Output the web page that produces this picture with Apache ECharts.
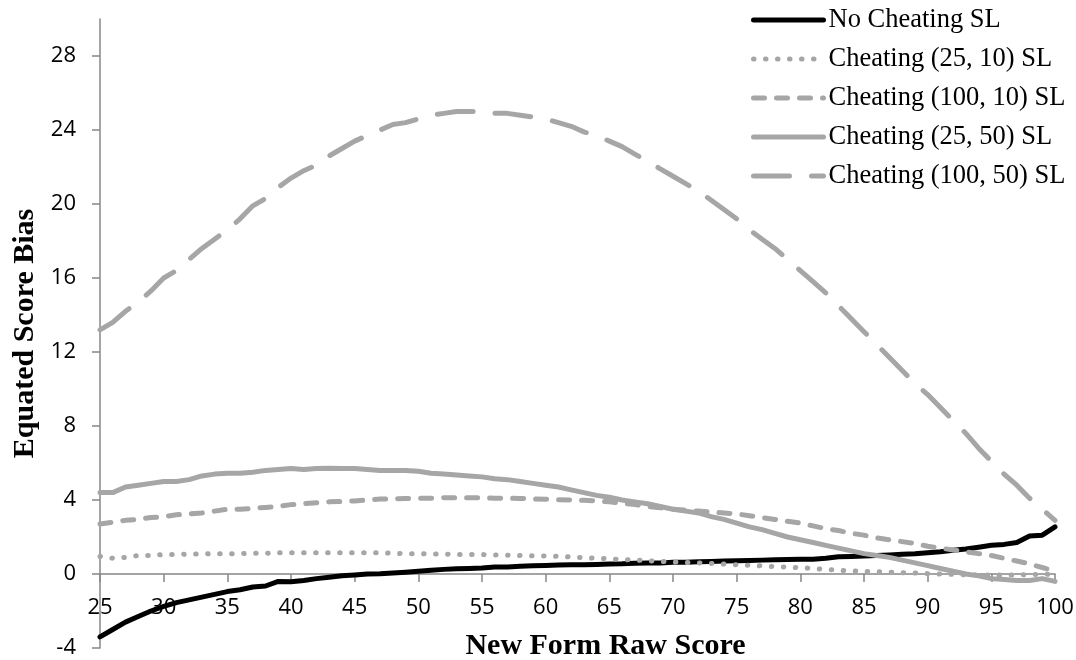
<!DOCTYPE html>
<html>
<head>
<meta charset="utf-8">
<title>Equated Score Bias</title>
<script src="https://cdn.jsdelivr.net/npm/echarts@6/dist/echarts.min.js"></script>
<style>
  html, body { margin: 0; padding: 0; background: #fff; }
  #chart { width: 1076px; height: 660px; }
</style>
</head>
<body>
<div id="chart"></div>
<script>
const GRAY = '#a6a6a6'
const AXIS_COLOR = '#878787'

// raw scores 25..100
const scores = [
  25, 26, 27, 28, 29, 30, 31, 32, 33, 34, 35, 36, 37, 38, 39, 40, 41, 42, 43, 44,
  45, 46, 47, 48, 49, 50, 51, 52, 53, 54, 55, 56, 57, 58, 59, 60, 61, 62, 63, 64,
  65, 66, 67, 68, 69, 70, 71, 72, 73, 74, 75, 76, 77, 78, 79, 80, 81, 82, 83, 84,
  85, 86, 87, 88, 89, 90, 91, 92, 93, 94, 95, 96, 97, 98, 99, 100
]

const noCheating = [
  -3.4, -3.0, -2.6, -2.3, -2.0, -1.75, -1.55, -1.4, -1.25, -1.1, -0.95, -0.85, -0.7, -0.65, -0.4, -0.42, -0.35, -0.25, -0.18, -0.1,
  -0.05, 0.0, 0.02, 0.06, 0.1, 0.15, 0.2, 0.25, 0.28, 0.3, 0.32, 0.38, 0.38, 0.42, 0.44, 0.46, 0.48, 0.5, 0.5, 0.52,
  0.54, 0.55, 0.58, 0.6, 0.6, 0.63, 0.64, 0.66, 0.68, 0.7, 0.72, 0.73, 0.75, 0.77, 0.78, 0.8, 0.8, 0.85, 0.93, 0.95,
  0.97, 1.0, 1.03, 1.07, 1.1, 1.15, 1.2, 1.28, 1.35, 1.45, 1.55, 1.6, 1.7, 2.05, 2.1, 2.55
]

const cheat25x10 = [
  0.95, 0.85, 0.9, 1.0, 1.0, 1.05, 1.05, 1.08, 1.08, 1.1, 1.1, 1.1, 1.12, 1.12, 1.15, 1.15, 1.15, 1.15, 1.15, 1.15,
  1.15, 1.15, 1.15, 1.12, 1.1, 1.1, 1.08, 1.08, 1.05, 1.05, 1.05, 1.03, 1.02, 1.0, 0.98, 0.97, 0.95, 0.92, 0.88, 0.85,
  0.82, 0.78, 0.75, 0.72, 0.68, 0.65, 0.62, 0.6, 0.57, 0.54, 0.5, 0.47, 0.44, 0.4, 0.37, 0.34, 0.3, 0.25, 0.2, 0.17,
  0.14, 0.12, 0.1, 0.07, 0.05, 0.02, 0.0, -0.02, -0.04, -0.05, -0.05, -0.05, -0.05, -0.03, -0.02, 0.0
]

const cheat100x10 = [
  2.7, 2.8, 2.9, 2.95, 3.05, 3.1, 3.2, 3.25, 3.3, 3.4, 3.5, 3.5, 3.55, 3.6, 3.65, 3.75, 3.8, 3.85, 3.9, 3.92,
  3.95, 4.0, 4.05, 4.05, 4.08, 4.1, 4.1, 4.12, 4.12, 4.12, 4.12, 4.1, 4.1, 4.08, 4.06, 4.04, 4.02, 4.0, 3.98, 3.95,
  3.9, 3.82, 3.75, 3.65, 3.58, 3.5, 3.45, 3.4, 3.35, 3.3, 3.25, 3.15, 3.05, 2.95, 2.85, 2.75, 2.6, 2.45, 2.35, 2.2,
  2.1, 1.95, 1.85, 1.75, 1.65, 1.5, 1.4, 1.3, 1.2, 1.1, 1.0, 0.85, 0.7, 0.55, 0.35, 0.15
]

const cheat25x50 = [
  4.4, 4.4, 4.7, 4.8, 4.9, 5.0, 5.0, 5.1, 5.3, 5.4, 5.45, 5.45, 5.5, 5.6, 5.65, 5.7, 5.65, 5.7, 5.72, 5.7,
  5.7, 5.65, 5.6, 5.6, 5.6, 5.55, 5.45, 5.4, 5.35, 5.3, 5.25, 5.15, 5.1, 5.0, 4.9, 4.8, 4.7, 4.55, 4.4, 4.25,
  4.15, 4.0, 3.9, 3.8, 3.65, 3.5, 3.4, 3.3, 3.1, 2.95, 2.75, 2.55, 2.4, 2.2, 2.0, 1.85, 1.7, 1.55, 1.4, 1.25,
  1.1, 1.0, 0.9, 0.75, 0.6, 0.45, 0.3, 0.15, 0.0, -0.1, -0.25, -0.3, -0.35, -0.35, -0.25, -0.4
]

const cheat100x50 = [
  13.2, 13.6, 14.2, 14.7, 15.3, 16.0, 16.4, 17.0, 17.6, 18.1, 18.6, 19.2, 19.9, 20.3, 20.9, 21.4, 21.8, 22.1, 22.6, 23.0,
  23.4, 23.7, 24.0, 24.3, 24.4, 24.6, 24.8, 24.9, 25.0, 25.0, 25.0, 24.9, 24.9, 24.8, 24.7, 24.6, 24.4, 24.2, 23.9, 23.7,
  23.4, 23.1, 22.7, 22.3, 21.9, 21.5, 21.1, 20.7, 20.2, 19.7, 19.2, 18.6, 18.1, 17.6, 17.0, 16.4, 15.8, 15.2, 14.5, 13.8,
  13.1, 12.4, 11.7, 11.0, 10.3, 9.7, 9.0, 8.3, 7.6, 6.8, 6.1, 5.4, 4.8, 4.1, 3.5, 2.9
]

const yTicks = [-4, 0, 4, 8, 12, 16, 20, 24, 28]

const pairs = (ys) => scores.map((x, i) => [x, ys[i]])

const chart = echarts.init(document.getElementById('chart'))

const lineSeries = (name, ys, color, type) => ({
  name,
  type: 'line',
  data: pairs(ys),
  symbol: 'none',
  smooth: false,
  lineStyle: { color, width: 5, type, cap: 'round', join: 'round' },
  itemStyle: { color },
  animation: false,
})

chart.setOption({
  animation: false,
  grid: { left: 100, right: 21, top: 19, bottom: 12, outerBoundsMode: 'none', containLabel: false },
  legend: {
    orient: 'vertical',
    left: 746,
    top: 0,
    itemWidth: 70,
    itemHeight: 14,
    itemGap: 9,
    itemStyle: { opacity: 0 },
    lineStyle: { width: 5, cap: 'round' },
    textStyle: {
      fontFamily: 'Liberation Serif',
      fontSize: 26.5,
      color: '#000',
      lineHeight: 30,
    },
  },
  xAxis: {
    type: 'value',
    min: 25,
    max: 100,
    interval: 5,
    offset: 0,
    name: 'New Form Raw Score',
    nameLocation: 'middle',
    nameGap: 57,
    nameTextStyle: {
      fontFamily: 'Liberation Serif',
      fontWeight: 'bold',
      fontSize: 30,
      color: '#000',
      padding: [0, 0, 0, 56],
    },
    axisLine: { onZero: false, lineStyle: { color: AXIS_COLOR, width: 1.5 } },
    axisTick: { show: true, length: 8, inside: false, lineStyle: { color: AXIS_COLOR, width: 1.5 } },
    axisLabel: { margin: 23, fontFamily: 'Open Sans', fontSize: 22, color: '#000' },
    splitLine: { show: false },
  },
  yAxis: {
    type: 'value',
    min: -4,
    max: 30,
    interval: 4,
    name: 'Equated Score Bias',
    nameLocation: 'middle',
    nameGap: 50,
    nameTextStyle: {
      fontFamily: 'Liberation Serif',
      fontWeight: 'bold',
      fontSize: 30,
      color: '#000',
    },
    axisLine: { show: true, onZero: false, lineStyle: { color: AXIS_COLOR, width: 1.5 } },
    axisTick: { show: true, length: 8, customValues: yTicks, lineStyle: { color: AXIS_COLOR, width: 1.5 } },
    axisLabel: { margin: 24, fontFamily: 'Open Sans', fontSize: 22, color: '#000', customValues: yTicks },
    splitLine: { show: false },
  },
  series: [
    lineSeries('No Cheating SL', noCheating, '#000000', 'solid'),
    lineSeries('Cheating (25, 10) SL', cheat25x10, GRAY, [0.5, 11.5]),
    lineSeries('Cheating (100, 10) SL', cheat100x10, GRAY, [11, 12]),
    lineSeries('Cheating (25, 50) SL', cheat25x50, GRAY, 'solid'),
    lineSeries('Cheating (100, 50) SL', cheat100x50, GRAY, [36, 22]),
  ],
})

// lift the x axis (line, ticks, labels, name) up to y = 0
const zeroY = chart.convertToPixel({ yAxisIndex: 0 }, 0)
const bottomY = chart.convertToPixel({ yAxisIndex: 0 }, -4)
chart.setOption({ xAxis: { offset: -(bottomY - zeroY) } })

window.addEventListener('resize', () => chart.resize())
</script>
</body>
</html>
